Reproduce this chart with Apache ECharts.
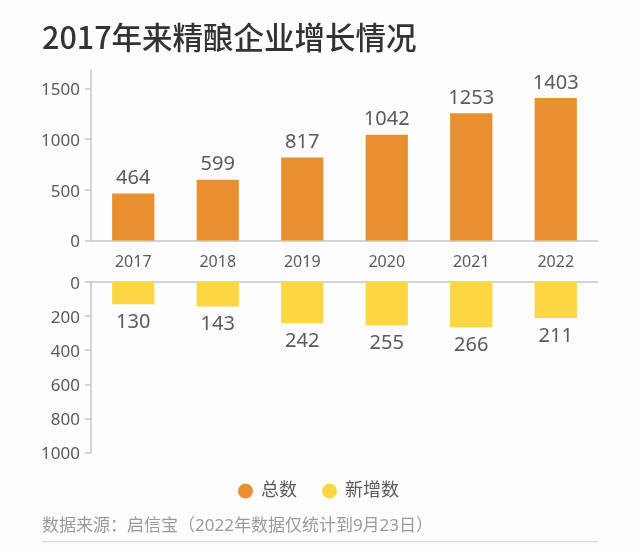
<!DOCTYPE html>
<html>
<head>
<meta charset="utf-8">
<style>
html,body{margin:0;padding:0;background:#fdfdfd;}
#main{width:640px;height:553px;}
</style>
<script src="https://cdn.jsdelivr.net/npm/echarts@6/dist/echarts.min.js"></script>
</head>
<body>
<div id="main"></div>
<script>
var years = ['2017', '2018', '2019', '2020', '2021', '2022'];
var totals = [464, 599, 817, 1042, 1253, 1403];
var newAdded = [130, 143, 242, 255, 266, 211];
var totalTicks = [0, 500, 1000, 1500];
var newTicks = [0, 200, 400, 600, 800, 1000];

var font = '"Noto Sans", "Noto Sans CJK SC", sans-serif';
var textColor = '#5a5a5a';
var axisColor = '#c6c6c6';

// 纵轴刻度不要千分位
var plainNumber = function(value) {
	return String(value);
};

var myChart = echarts.init(document.getElementById('main'));
var option = {
	backgroundColor: '#fdfdfd',
	animation: false,
	textStyle: {fontFamily: font},
	title: {
		text: '2017年来精酿企业增长情况',
		left: 37,
		top: 17,
		textStyle: {fontFamily: '"Noto Sans CJK SC", sans-serif', fontSize: 30.5, fontWeight: 500, color: '#333333'}
	},
	legend: {
		data: ['总数', '新增数'],
		icon: 'circle',
		left: 233,
		top: 477,
		itemWidth: 15,
		itemHeight: 15,
		itemGap: 25,
		textStyle: {fontFamily: font, fontSize: 18, color: textColor, padding: [0, 0, 0, 3]}
	},
	grid: [
		{left: 91, right: 42, top: 70, height: 170.5},
		{left: 91, right: 42, top: 282, height: 170.5}
	],
	xAxis: [
		{
			type: 'category',
			gridIndex: 0,
			data: years,
			axisLine: {lineStyle: {color: axisColor, width: 1.5}},
			axisTick: {alignWithLabel: true, length: 6, lineStyle: {color: axisColor, width: 1.5}},
			axisLabel: {fontSize: 16, color: textColor, margin: 14, fontFamily: font}
		},
		{
			type: 'category',
			gridIndex: 1,
			position: 'top',
			data: years,
			axisLine: {lineStyle: {color: axisColor, width: 1.5}},
			axisTick: {alignWithLabel: true, length: 6, lineStyle: {color: axisColor, width: 1.5}},
			axisLabel: {show: false}
		}
	],
	yAxis: [
		{
			type: 'value',
			gridIndex: 0,
			min: 0,
			max: 1680,
			splitLine: {show: false},
			axisLine: {show: true, lineStyle: {color: axisColor, width: 1.5}},
			axisTick: {show: true, customValues: totalTicks, length: 6, lineStyle: {color: axisColor, width: 1.5}},
			axisLabel: {customValues: totalTicks, formatter: plainNumber, fontSize: 17, color: textColor, margin: 11, verticalAlign: 'top', lineHeight: 4, fontFamily: font}
		},
		{
			type: 'value',
			gridIndex: 1,
			inverse: true,
			min: 0,
			max: 1000,
			interval: 200,
			splitLine: {show: false},
			axisLine: {show: true, lineStyle: {color: axisColor, width: 1.5}},
			axisTick: {show: true, customValues: newTicks, length: 6, lineStyle: {color: axisColor, width: 1.5}},
			axisLabel: {customValues: newTicks, formatter: plainNumber, fontSize: 17, color: textColor, margin: 11, verticalAlign: 'top', lineHeight: 4, fontFamily: font}
		}
	],
	series: [
		{
			name: '总数',
			type: 'bar',
			xAxisIndex: 0,
			yAxisIndex: 0,
			barWidth: '50%',
			data: totals,
			itemStyle: {color: '#e88f2f'},
			label: {show: true, position: 'top', distance: 5, fontSize: 20, color: textColor, fontFamily: font}
		},
		{
			name: '新增数',
			type: 'bar',
			xAxisIndex: 1,
			yAxisIndex: 1,
			barWidth: '50%',
			data: newAdded,
			itemStyle: {color: '#fcd643'},
			label: {show: true, position: 'bottom', distance: 8, fontSize: 20, color: textColor, fontFamily: font}
		}
	],
	graphic: [
		{
			type: 'text',
			left: 42,
			top: 518,
			style: {
				text: '数据来源：启信宝（2022年数据仅统计到9月23日）',
				fontFamily: font,
				fontSize: 17,
				fill: '#9a9a9a'
			}
		},
		{
			type: 'rect',
			left: 42,
			top: 541,
			shape: {width: 556, height: 1.5},
			style: {fill: '#dedede'}
		}
	]
};
myChart.setOption(option);
</script>
</body>
</html>
